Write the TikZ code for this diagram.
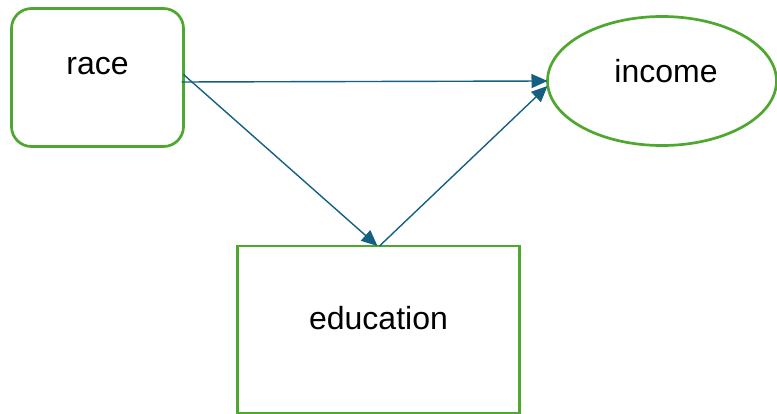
\documentclass[tikz,border=0pt]{standalone}
\usepackage{fontspec}
\setmainfont{Liberation Sans}
\usetikzlibrary{arrows.meta,shapes.geometric}
\definecolor{boxgreen}{HTML}{4EA72E}
\definecolor{arrowblue}{HTML}{156082}
\tikzset{
  var/.style={draw=boxgreen,line width=2.7pt,inner sep=0pt,outer sep=0pt},
  cause/.style={arrowblue,line width=1.4pt,-{Triangle[length=16pt,width=14pt]}}
}
\begin{document}
\begin{tikzpicture}[x=1pt,y=-1pt,font=\fontsize{32}{38}\selectfont]
\useasboundingbox (0,0) rectangle (777,414);
\node [var,rounded corners=20pt,minimum width=172pt,minimum height=138pt,
  label={[anchor=base,yshift=11pt]center:race}] (race) at (97.5,77.5) {};
\node [var,ellipse,minimum width=229pt,minimum height=129pt,
  label={[anchor=base,yshift=10pt,xshift=4pt]center:income}] (income) at (662,81) {};
\node [var,minimum width=282pt,minimum height=167pt,
  label={[anchor=base,yshift=11pt]center:education}] (education) at (378.5,329.5) {};
\draw [cause] ([xshift=-2pt,yshift=-4.5pt]race.east) -- (income.west);
\draw [cause] ([yshift=3pt]race.east) -- ([xshift=-1pt]education.north);
\draw [cause] ([xshift=1pt]education.north) -- ([yshift=-5pt]income.west);
\end{tikzpicture}
\end{document}
